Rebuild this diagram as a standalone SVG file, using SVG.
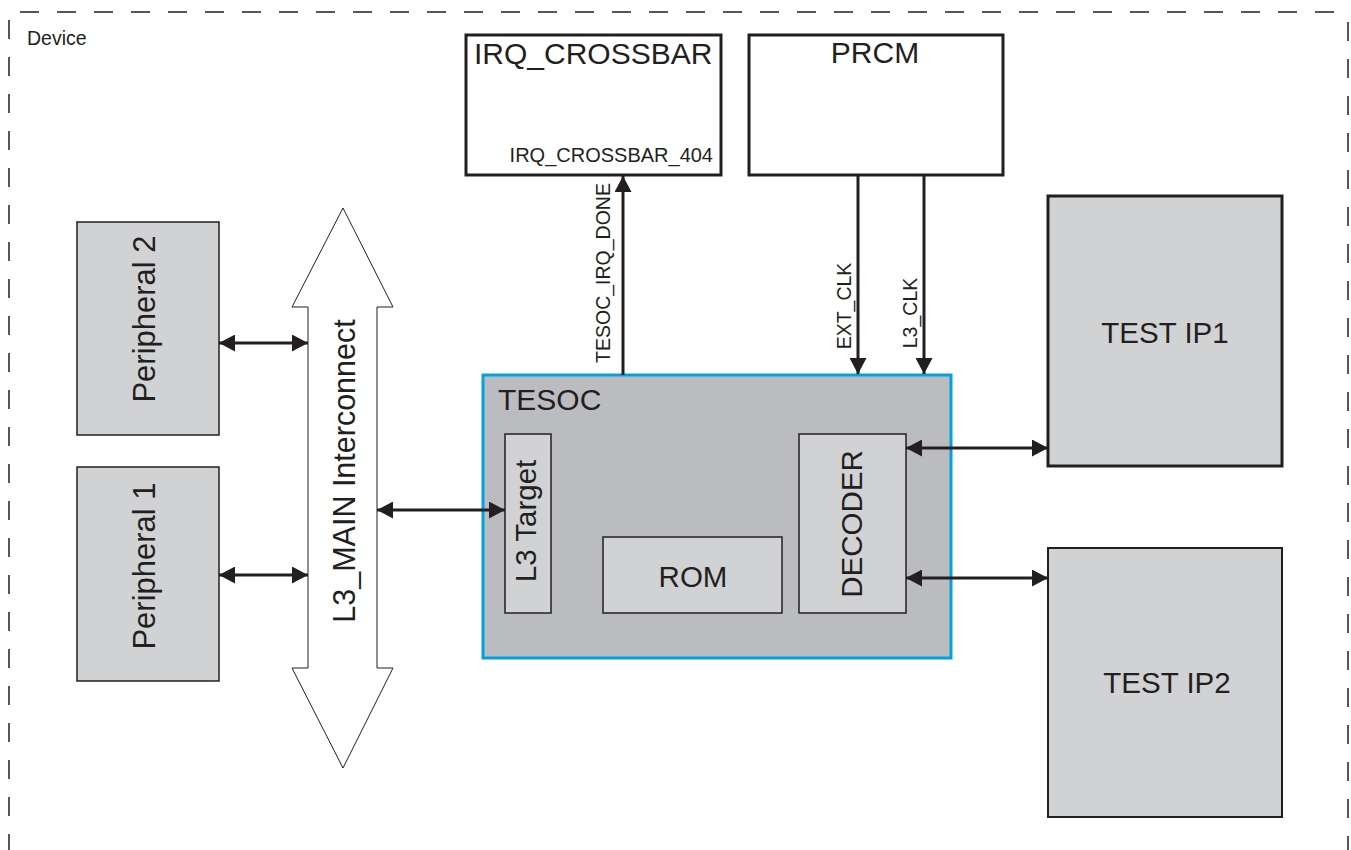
<svg xmlns="http://www.w3.org/2000/svg" width="1351" height="850" viewBox="0 0 1351 850">
<style>
text{font-family:"Liberation Sans",Arial,sans-serif;fill:#231f20}
.big{font-size:29.5px}
.sm{font-size:19.5px}
.box{fill:#d1d2d4;stroke:#231f20;stroke-width:1.5}
.wbox{fill:#ffffff;stroke:#231f20;stroke-width:3}
.con{stroke:#231f20;stroke-width:3;fill:none}
.dash{stroke:#231f20;stroke-width:1.5;fill:none;stroke-dasharray:19 18}
</style>
<defs>
<marker id="ah" viewBox="0 0 16 17" refX="16" refY="8.5" markerWidth="16" markerHeight="17" orient="auto-start-reverse" markerUnits="userSpaceOnUse">
<path d="M0,0 L16,8.5 L0,17 Z" fill="#231f20"/>
</marker>
</defs>
<rect width="1351" height="850" fill="#ffffff"/>
<g id="device">
<path class="dash" d="M20,12 H1348"/>
<path class="dash" d="M9,20 V850"/>
<path class="dash" d="M1348,22 V850"/>
<text x="27" y="45" style="font-size:19.5px">Device</text>
</g>
<g id="irq_crossbar">
<rect class="wbox" x="466" y="35" width="255" height="140"/>
<text x="474" y="64" style="font-size:30px">IRQ_CROSSBAR</text>
<text x="713" y="162" text-anchor="end" style="font-size:20px">IRQ_CROSSBAR_404</text>
</g>
<g id="prcm">
<rect class="wbox" x="749" y="35" width="254" height="140"/>
<text x="875" y="63" text-anchor="middle" style="font-size:30px">PRCM</text>
</g>
<g id="peripheral2">
<rect class="box" x="77" y="222" width="142" height="213"/>
<text transform="translate(155,319) rotate(-90)" text-anchor="middle" style="font-size:31px">Peripheral 2</text>
</g>
<g id="peripheral1">
<rect class="box" x="77" y="467" width="142" height="214"/>
<text transform="translate(155,566) rotate(-90)" text-anchor="middle" style="font-size:31px">Peripheral 1</text>
</g>
<g id="l3_main">
<path d="M343,208 L393,307 L377,307 L377,668 L393,668 L343,768 L292,668 L308,668 L308,307 L292,307 Z" fill="#ffffff" stroke="#231f20" stroke-width="1"/>
<text transform="translate(355,471) rotate(-90)" text-anchor="middle" style="font-size:30.5px">L3_MAIN Interconnect</text>
</g>
<g id="tesoc">
<rect x="483" y="375" width="468" height="283" fill="#bbbcc0" stroke="#00a3e0" stroke-width="3"/>
<text x="498" y="410" style="font-size:30px">TESOC</text>
</g>
<g id="l3_target">
<rect class="box" x="505" y="434" width="46" height="179"/>
<text transform="translate(536,521) rotate(-90)" text-anchor="middle" class="big">L3 Target</text>
</g>
<g id="rom">
<rect class="box" x="603" y="537" width="179" height="76"/>
<text x="693" y="587" text-anchor="middle" class="big">ROM</text>
</g>
<g id="decoder">
<rect class="box" x="799" y="434" width="107" height="179"/>
<text transform="translate(862,524) rotate(-90)" text-anchor="middle" class="big">DECODER</text>
</g>
<g id="test_ip1">
<rect x="1048" y="196" width="234" height="270" fill="#d1d2d4" stroke="#231f20" stroke-width="3"/>
<text x="1165" y="343" text-anchor="middle" class="big">TEST IP1</text>
</g>
<g id="test_ip2">
<rect x="1048" y="548" width="234" height="269" fill="#d1d2d4" stroke="#231f20" stroke-width="2"/>
<text x="1167" y="693" text-anchor="middle" class="big">TEST IP2</text>
</g>
<g id="connectors">
<line class="con" x1="219" y1="343" x2="308" y2="343" marker-start="url(#ah)" marker-end="url(#ah)"/>
<line class="con" x1="219" y1="575" x2="308" y2="575" marker-start="url(#ah)" marker-end="url(#ah)"/>
<line class="con" x1="377" y1="510" x2="505" y2="510" marker-start="url(#ah)" marker-end="url(#ah)"/>
<line class="con" x1="906" y1="448" x2="1048" y2="448" marker-start="url(#ah)" marker-end="url(#ah)"/>
<line class="con" x1="906" y1="578" x2="1048" y2="578" marker-start="url(#ah)" marker-end="url(#ah)"/>
<line class="con" x1="623" y1="375" x2="623" y2="176" marker-end="url(#ah)"/>
<line class="con" x1="858" y1="175" x2="858" y2="374" marker-end="url(#ah)"/>
<line class="con" x1="924" y1="175" x2="924" y2="374" marker-end="url(#ah)"/>
<text transform="translate(610,273) rotate(-90)" text-anchor="middle" class="sm">TESOC_IRQ_DONE</text>
<text transform="translate(851,306) rotate(-90)" text-anchor="middle" class="sm">EXT_CLK</text>
<text transform="translate(917,313) rotate(-90)" text-anchor="middle" class="sm">L3_CLK</text>
</g>
</svg>
